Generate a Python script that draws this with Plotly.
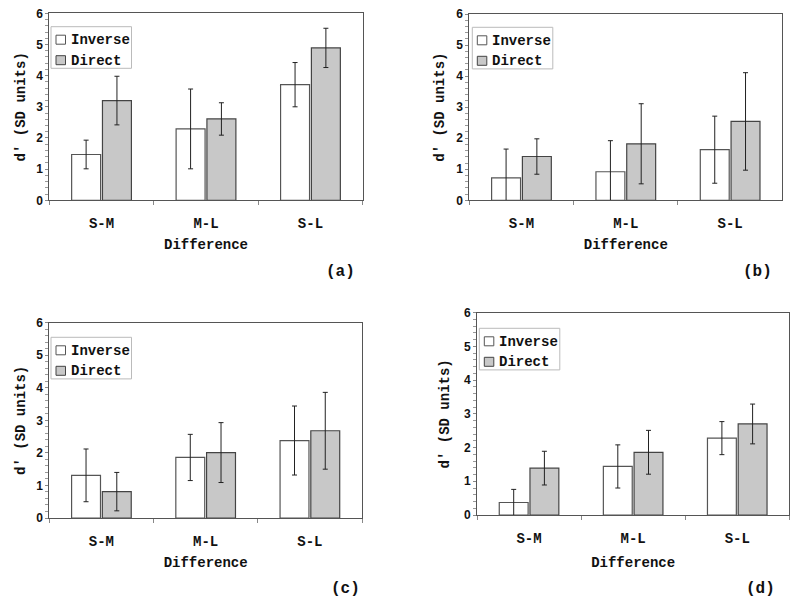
import plotly.graph_objects as go

categories = ["S-M", "M-L", "S-L"]
series_names = ["Inverse", "Direct"]
panel_labels = ["(a)", "(b)", "(c)", "(d)"]

# panel (a)
a_inverse = [1.47, 2.29, 3.71]
a_inverse_err = [0.46, 1.28, 0.71]
a_direct = [3.20, 2.61, 4.89]
a_direct_err = [0.78, 0.52, 0.63]
# panel (b)
b_inverse = [0.72, 0.92, 1.63]
b_inverse_err = [0.93, 1.00, 1.08]
b_direct = [1.41, 1.82, 2.54]
b_direct_err = [0.57, 1.29, 1.57]
# panel (c)
c_inverse = [1.31, 1.86, 2.38]
c_inverse_err = [0.81, 0.71, 1.06]
c_direct = [0.81, 2.01, 2.68]
c_direct_err = [0.59, 0.92, 1.18]
# panel (d)
d_inverse = [0.37, 1.44, 2.28]
d_inverse_err = [0.39, 0.64, 0.49]
d_direct = [1.39, 1.86, 2.70]
d_direct_err = [0.50, 0.65, 0.59]

panels = [
    (a_inverse, a_inverse_err, a_direct, a_direct_err),
    (b_inverse, b_inverse_err, b_direct, b_direct_err),
    (c_inverse, c_inverse_err, c_direct, c_direct_err),
    (d_inverse, d_inverse_err, d_direct, d_direct_err),
]

W, H = 800, 604
# plot-area pixel boxes: (left, right, top, bottom)
boxes = [
    (49.3, 362.7, 13.3, 200.3),
    (469.3, 782.3, 14.0, 200.3),
    (49.3, 362.0, 322.7, 518.0),
    (477.0, 789.3, 312.7, 515.0),
]
legend_pos = [(51, 26.7), (472.3, 27.3), (51, 337.3), (479.3, 328.3)]
label_pos = [(340, 272), (757, 272), (345, 589), (760, 589)]
xtitle_standoff = [8, 8, 8, 11]
ytitle_standoff = [7, 8, 7, 11]

MONO = "Liberation Mono, Courier New, monospace"
SANS = "Liberation Sans, Arial, sans-serif"

styles = [
    dict(fill="white", line="#555555"),
    dict(fill="#c8c8c8", line="#444444"),
]

def px_x(v):
    return v / W

def px_y(v):
    return 1 - v / H

fig = go.Figure()
layout = dict(
    width=W, height=H,
    margin=dict(l=0, r=0, t=0, b=0),
    paper_bgcolor="white", plot_bgcolor="white",
    barmode="group", bargap=0.41, bargroupgap=0.06,
    showlegend=False,
    annotations=[], shapes=[],
)

for i, (inv, inv_e, dirv, dir_e) in enumerate(panels):
    n = "" if i == 0 else str(i + 1)
    xa, ya = "x" + n, "y" + n
    for s, (vals, errs) in enumerate([(inv, inv_e), (dirv, dir_e)]):
        fig.add_trace(go.Bar(
            x=categories, y=vals, name=series_names[s], xaxis=xa, yaxis=ya,
            marker=dict(color=styles[s]["fill"], line=dict(color=styles[s]["line"], width=1.2)),
            error_y=dict(type="data", array=errs, visible=True, color="#222222",
                         thickness=1, width=2.5),
        ))
    l, r, t, b = boxes[i]
    layout["xaxis" + n] = dict(
        domain=[l / W, r / W], anchor=ya, type="category", range=[-0.5, 2.5],
        automargin=False,
        showline=True, mirror=True, linecolor="#555555", linewidth=1,
        ticks="outside", tickson="boundaries", ticklen=4, tickcolor="#888888",
        ticklabelstandoff=10,
        tickfont=dict(family=MONO, size=14, color="#111111", weight="bold"),
        title=dict(text="Difference", standoff=xtitle_standoff[i],
                   font=dict(family=MONO, size=14, color="#111111", weight="bold")),
        showgrid=False, zeroline=False, fixedrange=True,
    )
    layout["yaxis" + n] = dict(
        domain=[1 - b / H, 1 - t / H], anchor=xa, range=[0, 6], dtick=1,
        automargin=False,
        showline=True, mirror=True, linecolor="#555555", linewidth=1,
        ticks="outside", ticklen=3, tickcolor="#888888",
        minor=dict(dtick=0.2, ticks="outside", ticklen=3, tickcolor="#999999"),
        tickfont=dict(family=SANS, size=12, color="#111111", weight="bold"),
        title=dict(text="d' (SD units)", standoff=ytitle_standoff[i],
                   font=dict(family=MONO, size=14, color="#111111", weight="bold")),
        showgrid=False, zeroline=False, fixedrange=True,
    )
    # legend box
    lx, ly = legend_pos[i]
    layout["shapes"].append(dict(
        type="rect", xref="paper", yref="paper",
        x0=px_x(lx), x1=px_x(lx + 80.5), y0=px_y(ly), y1=px_y(ly + 41.6),
        line=dict(color="#bbbbbb", width=1), fillcolor="white", layer="above",
    ))
    for s in range(2):
        sy0 = ly + 8.5 + s * 20.5
        layout["shapes"].append(dict(
            type="rect", xref="paper", yref="paper",
            x0=px_x(lx + 5), x1=px_x(lx + 14.5), y0=px_y(sy0), y1=px_y(sy0 + 9),
            line=dict(color=styles[s]["line"], width=1), fillcolor=styles[s]["fill"],
            layer="above",
        ))
        layout["annotations"].append(dict(
            text=series_names[s], x=px_x(lx + 17.5), y=px_y(sy0 + 4.8),
            xref="paper", yref="paper", showarrow=False,
            xanchor="left", yanchor="middle",
            font=dict(family=MONO, size=14, color="#111111", weight="bold"),
        ))
    px, py = label_pos[i]
    layout["annotations"].append(dict(
        text=panel_labels[i], x=px_x(px), y=px_y(py), xref="paper", yref="paper",
        showarrow=False, xanchor="center", yanchor="middle",
        font=dict(family=MONO, size=16, color="#111111", weight="bold"),
    ))

fig.update_layout(**layout)
fig.write_html(
    "out.html",
    config={"displayModeBar": False, "staticPlot": True},
    post_script="document.body.style.margin='0';document.body.style.overflow='hidden';",
)
